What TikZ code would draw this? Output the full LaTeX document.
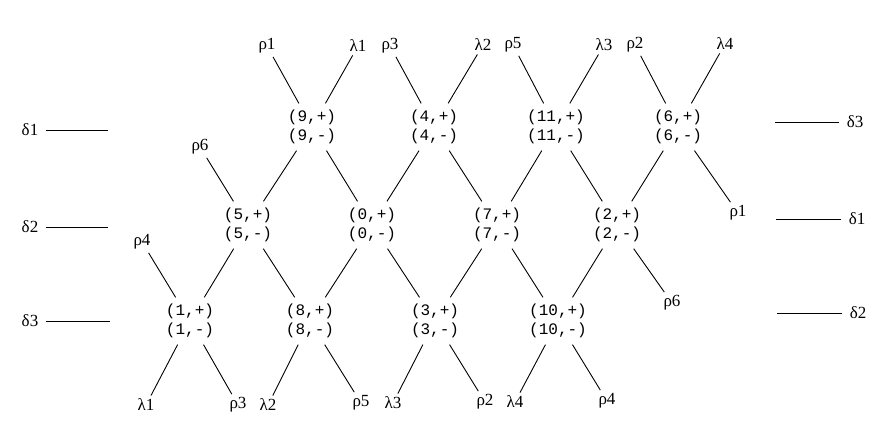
\documentclass[tikz,border=0pt]{standalone}
\usepackage{fontspec}
\setmainfont{Liberation Serif}
\newfontfamily\pairfont{Liberation Mono}
\usetikzlibrary{positioning}

\begin{document}
\begin{tikzpicture}[x=1pt,y=-1pt,line width=0.9pt]
  \tikzstyle{pair}=[align=center,inner sep=6pt,font=\pairfont\fontsize{16}{19.5}\selectfont]
  \tikzstyle{lab}=[inner sep=3pt,font=\fontsize{17}{20}\selectfont]
  \tikzstyle{dlab}=[inner sep=7pt,font=\fontsize{17}{20}\selectfont]
  \useasboundingbox (0,0) rectangle (892,428);
  % pairs
  \node[pair] (p9) at (312,127) {(9,+)\\(9,-)};
  \node[pair] (p4) at (434,127) {(4,+)\\(4,-)};
  \node[pair] (p11) at (556,127) {(11,+)\\(11,-)};
  \node[pair] (p6) at (678,127) {(6,+)\\(6,-)};
  \node[pair] (p5) at (248,225) {(5,+)\\(5,-)};
  \node[pair] (p0) at (372,225) {(0,+)\\(0,-)};
  \node[pair] (p7) at (497,225) {(7,+)\\(7,-)};
  \node[pair] (p2) at (617,225) {(2,+)\\(2,-)};
  \node[pair] (p1) at (190,321) {(1,+)\\(1,-)};
  \node[pair] (p8) at (310,321) {(8,+)\\(8,-)};
  \node[pair] (p3) at (435,321) {(3,+)\\(3,-)};
  \node[pair] (p10) at (558,321) {(10,+)\\(10,-)};
  % ends
  \node[lab] (tr1) at (267,46) {ρ1};
  \node[lab] (tl1) at (358,46) {λ1};
  \node[lab] (tr3) at (390,46) {ρ3};
  \node[lab] (tl2) at (483,45) {λ2};
  \node[lab] (tr5) at (513,45) {ρ5};
  \node[lab] (tl3) at (604,45) {λ3};
  \node[lab] (tr2) at (635,45) {ρ2};
  \node[lab] (tl4) at (725,44) {λ4};
  \node[lab] (bl1) at (146,405) {λ1};
  \node[lab] (br3) at (238,405) {ρ3};
  \node[lab] (bl2) at (268,405) {λ2};
  \node[lab] (br5) at (361,403) {ρ5};
  \node[lab] (bl3) at (393,403) {λ3};
  \node[lab] (br2) at (485,402) {ρ2};
  \node[lab] (bl4) at (515,402) {λ4};
  \node[lab] (br4) at (607,401) {ρ4};
  \node[lab] (sr6) at (200,147) {ρ6};
  \node[lab] (sr4) at (142,242) {ρ4};
  \node[lab] (sr1) at (738,213) {ρ1};
  \node[lab] (sr6b) at (672,303) {ρ6};
  \foreach \a/\b in {tr1/p9,tl1/p9,tr3/p4,tl2/p4,tr5/p11,tl3/p11,tr2/p6,tl4/p6,
      p9/p5,p9/p0,p4/p0,p4/p7,p11/p7,p11/p2,p6/p2,p6/sr1,
      sr6/p5,p5/p1,p5/p8,p0/p8,p0/p3,p7/p3,p7/p10,p2/p10,p2/sr6b,
      sr4/p1,p1/bl1,p1/br3,p8/bl2,p8/br5,p3/bl3,p3/br2,p10/bl4,p10/br4}
    \draw (\a) -- (\b);
  % levels
  \node[dlab] (dl1) at (30,130) {δ1};
  \node[dlab] (dl2) at (30,227) {δ2};
  \node[dlab] (dl3) at (30,321) {δ3};
  \node[dlab] (dr3) at (855,122) {δ3};
  \node[dlab] (dr1) at (857,219) {δ1};
  \node[dlab] (dr2) at (858,313) {δ2};
  \coordinate (dl1e) at (108,130);
  \coordinate (dl2e) at (108,227);
  \coordinate (dl3e) at (110,321);
  \coordinate (dr3e) at (775,122);
  \coordinate (dr1e) at (776,219);
  \coordinate (dr2e) at (777,313);
  \foreach \a in {dl1,dl2,dl3,dr3,dr1,dr2}
    \draw (\a) -- (\a e);
\end{tikzpicture}
\end{document}
